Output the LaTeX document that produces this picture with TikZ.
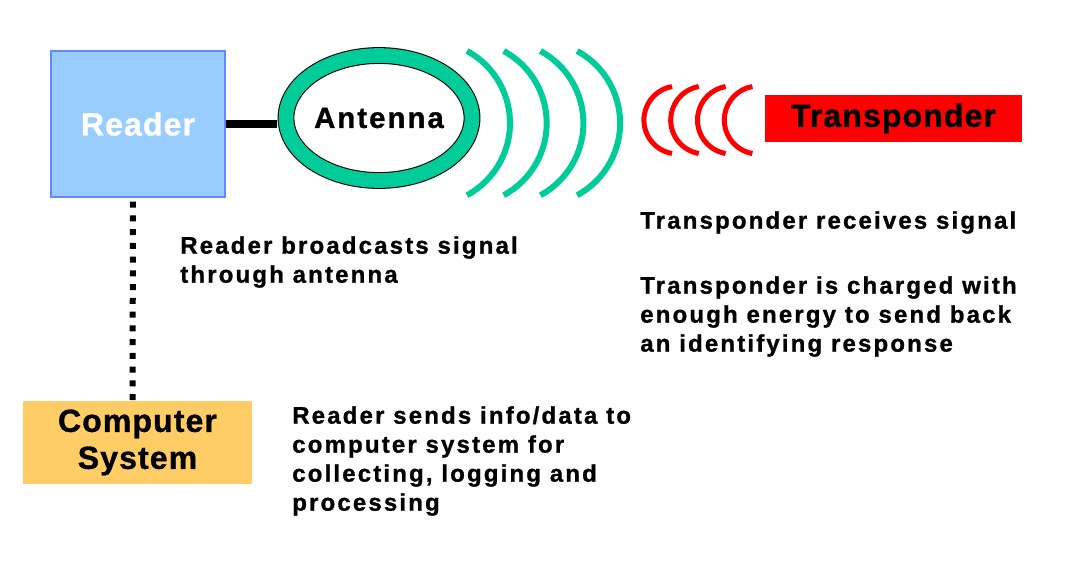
\documentclass[tikz,border=0pt]{standalone}
\usepackage{fontspec}
\setmainfont{Liberation Sans}
\usetikzlibrary{positioning, shapes.geometric}
\definecolor{readerblue}{RGB}{153,204,255}
\definecolor{readeredge}{RGB}{102,136,255}
\definecolor{wavegreen}{RGB}{0,204,153}
\definecolor{sysorange}{RGB}{255,204,102}

\begin{document}
\begin{tikzpicture}[x=0.75pt,y=-0.75pt,
  note/.style={anchor=north west,inner sep=0pt,align=left,
    font=\bfseries\addfontfeature{LetterSpace=9,FakeBold=1}\fontsize{18}{21.75}\selectfont},
  boxlabel/.style={inner sep=0pt,align=center,
    font=\bfseries\addfontfeature{LetterSpace=3.5,FakeBold=1}\fontsize{24}{27.75}\selectfont},
  greenwave/.style={wavegreen,line width=4.5pt},
  redwave/.style={red,line width=3.75pt}]
  \useasboundingbox (0,0) rectangle (1072,575);
  \node[boxlabel,draw=readeredge,line width=1.1pt,fill=readerblue,text=white,
        minimum width=130.5pt,minimum height=109.5pt](reader) at (138,124){Reader};
  \node[boxlabel,ellipse,draw=black,line width=0.8pt,double=wavegreen,
        double distance=11pt,fill=white,minimum width=139.5pt,minimum height=93.75pt,
        font=\bfseries\addfontfeature{LetterSpace=7,FakeBold=1}\fontsize{22}{25}\selectfont]
       (antenna) at (379,118){Antenna};
  \node[boxlabel,fill=red,minimum width=192.75pt,minimum height=35.25pt](transponder)
       at (893.5,118.5){Transponder};
  \node[boxlabel,fill=sysorange,minimum width=171.75pt,minimum height=62.25pt](computer)
       at (137.5,442.5){Computer\\System};
  \draw[line width=6pt,shorten >=6pt](reader.east) -- (reader.east -| antenna.west);
  \draw[line width=4.5pt,dash pattern=on 4.5pt off 5.8pt,shorten <=3pt]
       ([xshift=-3.75pt]reader.south) -- ([xshift=-3.75pt]computer.north);
  \foreach \i in {0,...,3}
    \draw[greenwave]({467+36.7*\i},51) arc[start angle=-61.6,end angle=61.6,radius=82];
  \foreach \i in {0,...,3}
    \draw[redwave]({672+26.8*\i},153.5) arc[start angle=100,end angle=260,radius=34];
  \node[note](broadcast) at (180,236){Reader broadcasts signal\\through antenna};
  \node[note](receives) at (640,211){Transponder receives signal};
  \node[note](charged) at (640,276){Transponder is charged with\\enough energy to send back\\an identifying response};
  \node[note](sends) at (292,406){Reader sends info/data to\\computer system for\\collecting, logging and\\processing};
\end{tikzpicture}
\end{document}
